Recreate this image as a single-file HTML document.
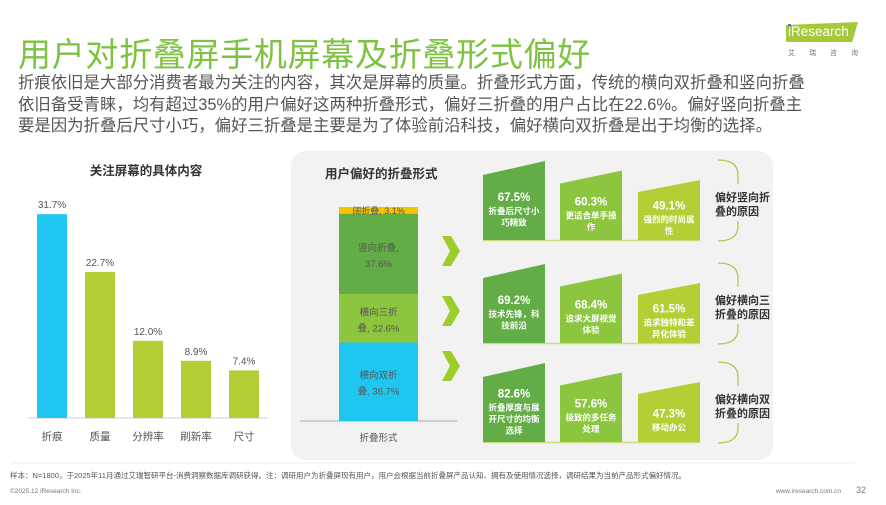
<!DOCTYPE html>
<html><head><meta charset="utf-8">
<style>
body{margin:0;width:886px;height:505px;overflow:hidden;background:#fff;font-family:"Liberation Sans","Noto Sans CJK SC",sans-serif;position:relative}
.t{position:absolute;white-space:nowrap}
</style></head><body>
<div class="t" style="left:18px;top:28px;font-size:33px;color:#7ec242;letter-spacing:0.7px">用户对折叠屏手机屏幕及折叠形式偏好</div>
<div class="t" style="left:18px;top:73px;font-size:16.4px;line-height:21.7px;color:#555">折痕依旧是大部分消费者最为关注的内容，其次是屏幕的质量。折叠形式方面，传统的横向双折叠和竖向折叠<br>依旧备受青睐，均有超过35%的用户偏好这两种折叠形式，偏好三折叠的用户占比在22.6%。偏好竖向折叠主<br>要是因为折叠后尺寸小巧，偏好三折叠是主要是为了体验前沿科技，偏好横向双折叠是出于均衡的选择。</div>
<div style="position:absolute;left:786px;top:20px;width:92px;height:24px">
<div style="position:absolute;left:0;top:2px;width:72px;height:20px;background:#a6c93a;clip-path:polygon(0 15%,100% 0,92% 100%,0 100%)"></div>
<div style="position:absolute;left:2px;top:4px;width:3px;height:3px;border-radius:50%;background:#1e5db0"></div>
<div class="t" style="left:2px;top:4px;font-size:13.5px;color:#fff">iResearch</div>
<div class="t" style="left:2px;top:28px;font-size:7px;color:#777;letter-spacing:14px">艾瑞咨询</div>
</div>
<svg width="886" height="505" style="position:absolute;left:0;top:0">
<rect x="291" y="151" width="482" height="309" rx="14" fill="#f2f2f2"/>
<g id="left"></g><g id="stack"></g><g id="boxes"></g>
<text x="325" y="178" font-size="12.5" font-weight="bold" fill="#333">用户偏好的折叠形式</text>
<text x="146" y="175" font-size="12.5" font-weight="bold" fill="#333" text-anchor="middle">关注屏幕的具体内容</text>
<line x1="10" y1="463" x2="855" y2="463" stroke="#eee"/>
</svg>
<div class="t" style="left:10px;top:470px;font-size:7.5px;color:#555">样本：N=1800，于2025年11月通过艾瑞智研平台-消费洞察数据库调研获得。注：调研用户为折叠屏现有用户，用户会根据当前折叠屏产品认知、拥有及使用情况选择，调研结果为当前产品形式偏好情况。</div>
<div class="t" style="left:10px;top:488px;font-size:6.5px;color:#777">©2025.12 iResearch Inc.</div>
<div class="t" style="left:776px;top:488px;font-size:6.5px;color:#777">www.iresearch.com.cn</div>
<div class="t" style="left:856px;top:485px;font-size:9px;color:#777">32</div>
<script>
const NS="http://www.w3.org/2000/svg";
function mk(p,tag,at,txt){const e=document.createElementNS(NS,tag);for(const k in at)e.setAttribute(k,at[k]);if(txt!=null)e.textContent=txt;p.appendChild(e);return e;}
// bar chart
const barCats=["折痕","质量","分辨率","刷新率","尺寸"];
const barVals=[31.7,22.7,12.0,8.9,7.4];
const barColors=["#1fc6f0","#b2cf35","#b2cf35","#b2cf35","#b2cf35"];
const L=document.getElementById("left");
const base=418,scale=6.43;
const xs=i=>52+i*48;
let ax=mk(L,"line",{x1:28,y1:base,x2:268,y2:base,stroke:"#ddd","stroke-width":1.5});

barVals.forEach((v,i)=>{const h=v*scale;
 const r=mk(L,"rect",{x:xs(i)-15,y:base-h,width:30,height:h,fill:barColors[i]});
 
 const t=mk(L,"text",{x:xs(i),y:base-h-6,"font-size":10,fill:"#555","text-anchor":"middle"},v.toFixed(1)+"%");
 
 const c=mk(L,"text",{x:xs(i),y:base+22,"font-size":10.5,fill:"#555","text-anchor":"middle"},barCats[i]);
 
});
// stacked
const stackCats=["横向双折叠","横向三折叠","竖向折叠","阔折叠"];
const stackVals=[36.7,22.6,37.6,3.1];
const stackColors=["#1fc6f0","#8cc63f","#63ad46","#f5c400"];
const stackLab=[["横向双折","叠, 36.7%"],["横向三折","叠, 22.6%"],["竖向折叠,","37.6%"],["阔折叠, 3.1%"]];
const S=document.getElementById("stack");
const sb=421,ss=2.14;let cum=0;
let sa=mk(S,"line",{x1:300,y1:sb,x2:457,y2:sb,stroke:"#aaa","stroke-width":1});

stackVals.forEach((v,i)=>{const y0=sb-cum*ss,h=v*ss;cum+=v;
 const r=mk(S,"rect",{x:339,y:y0-h,width:79,height:h,fill:stackColors[i]});
 
 const ls=stackLab[i],cy=y0-h/2;
 ls.forEach((s,j)=>{const t=mk(S,"text",{x:378.5,y:ls.length==1?cy+3.5:cy-3+j*16,"font-size":ls.length==1?9:9.5,fill:"#555","text-anchor":"middle"},s);
 });
});
const sc=mk(S,"text",{x:378.5,y:441,"font-size":9.5,fill:"#555","text-anchor":"middle"},"折叠形式");

// reason boxes
const reasonGroups=["偏好竖向折叠的原因","偏好横向三折叠的原因","偏好横向双折叠的原因"];
const reasonVals=[[67.5,60.3,49.1],[69.2,68.4,61.5],[82.6,57.6,47.3]];
const reasonText=[[["折叠后尺寸小","巧精致"],["更适合单手操","作"],["强烈的时尚属","性"]],[["技术先锋，科","技前沿"],["追求大屏视觉","体验"],["追求独特和差","异化体验"]],[["折叠厚度与展","开尺寸的均衡","选择"],["极致的多任务","处理"],["移动办公"]]];
const groupLab=[["偏好竖向折","叠的原因"],["偏好横向三","折叠的原因"],["偏好横向双","折叠的原因"]];
const B=document.getElementById("boxes");
const colX=[483,560,638],boxC=["#63ad46","#8cc63f","#b2cf35"];
const rowB=[240,343,442];
const chevY=[251,311,366];
chevY.forEach(cy=>{
 const ch=mk(B,"polygon",{points:`442,${cy-15} 451,${cy-15} 460,${cy} 451,${cy+15} 442,${cy+15} 450,${cy}`,fill:"#9ccd2a"});
 
});
reasonGroups.forEach((g,r)=>{const b=rowB[r];
 const ln=mk(B,"line",{x1:483,y1:b+0.5,x2:700,y2:b+0.5,stroke:"#c8e07a","stroke-width":1.5});
 
 reasonVals[r].forEach((v,c)=>{const x=colX[c];
  const tl=b-65+c*8.5,tr=b-79+c*9.5;
  const p=mk(B,"polygon",{points:`${x},${tl} ${x+62},${tr} ${x+62},${b} ${x},${b}`,fill:boxC[c]});
  
  const lines=reasonText[r][c];const n=lines.length;
  const mid=(tl+b)/2+1;const ty=mid-(n*11.5+14)/2+11;
  const vt=mk(B,"text",{x:x+31,y:ty,"font-size":11.5,fill:"#fff","text-anchor":"middle","font-weight":"bold"},v.toFixed(1)+"%");
  
  lines.forEach((s,j)=>{const t=mk(B,"text",{x:x+31,y:ty+13+j*11.5,"font-size":8.5,fill:"#fff","text-anchor":"middle","font-weight":"bold"},s);
   });
 });
 const bt=b-80,bb=b+1;
 const br=mk(B,"path",{d:`M718,${bt} Q738,${bt} 738,${bt+15} L738,${bt+24} M738,${bb-20} L738,${bb-15} Q738,${bb} 718,${bb}`,fill:"none",stroke:"#a8cf45","stroke-width":1.3});
 
 groupLab[r].forEach((s,j)=>{const t=mk(B,"text",{x:715,y:bt+41+j*14,"font-size":11,"font-weight":"bold",fill:"#333"},s);
  });
});
</script>
</body></html>
